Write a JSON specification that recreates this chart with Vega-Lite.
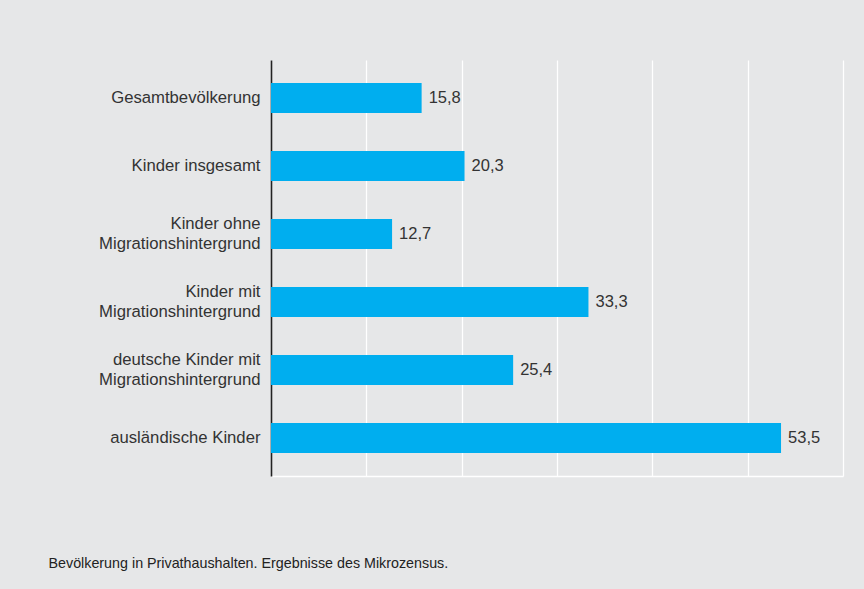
{
  "$schema": "https://vega.github.io/schema/vega-lite/v6.json",
  "autosize": {"type": "none"},
  "width": 572,
  "height": 416,
  "padding": {"left": 271, "top": 60, "right": 21, "bottom": 113},
  "background": "#e6e7e8",
  "config": {
    "locale": {"number": {"decimal": ",", "thousands": ".", "grouping": [3], "currency": ["", " €"]}},
    "view": {"stroke": null},
    "font": "Liberation Sans"
  },
  "data": {
    "values": [
      {"gruppe": "Gesamtbevölkerung", "wert": 15.8},
      {"gruppe": "Kinder insgesamt", "wert": 20.3},
      {"gruppe": "Kinder ohne|Migrationshintergrund", "wert": 12.7},
      {"gruppe": "Kinder mit|Migrationshintergrund", "wert": 33.3},
      {"gruppe": "deutsche Kinder mit|Migrationshintergrund", "wert": 25.4},
      {"gruppe": "ausländische Kinder", "wert": 53.5}
    ]
  },
  "encoding": {
    "y": {
      "field": "gruppe",
      "type": "nominal",
      "sort": null,
      "scale": {"paddingInner": 0.56, "paddingOuter": 0.34},
      "axis": {
        "title": null,
        "ticks": false,
        "domainColor": "#222222",
        "domainWidth": 1.6,
        "labelExpr": "split(datum.label, '|')",
        "labelFont": "Liberation Sans",
        "labelFontSize": 16.7,
        "labelColor": "#333333",
        "labelPadding": 11,
        "labelLineHeight": 20,
        "labelLimit": 300,
        "labelOffset": {"condition": {"test": "indexof(datum.label, '|') >= 0", "value": -10}, "value": 0}
      }
    },
    "x": {
      "field": "wert",
      "type": "quantitative",
      "scale": {"domain": [0, 60], "nice": false},
      "axis": {
        "values": [0, 10, 20, 30, 40, 50, 60],
        "labels": false,
        "ticks": false,
        "grid": true,
        "gridColor": "#ffffff",
        "gridWidth": 1.3,
        "gridOpacity": 1,
        "domain": true,
        "domainColor": "#ffffff",
        "domainWidth": 1.6,
        "title": "Bevölkerung in Privathaushalten. Ergebnisse des Mikrozensus.",
        "titleFont": "Liberation Sans",
        "titleFontSize": 14.3,
        "titleFontWeight": "normal",
        "titleColor": "#222222",
        "titleAnchor": "start",
        "titleAlign": "left",
        "titleBaseline": "alphabetic",
        "titleX": -223,
        "titleY": 91
      }
    }
  },
  "layer": [
    {"mark": {"type": "bar", "color": "#00aeef"}},
    {
      "mark": {"type": "text", "align": "left", "baseline": "middle", "dx": 7, "fontSize": 16.5, "font": "Liberation Sans", "color": "#333333"},
      "encoding": {"text": {"field": "wert", "type": "quantitative", "format": ".1f"}}
    }
  ]
}
